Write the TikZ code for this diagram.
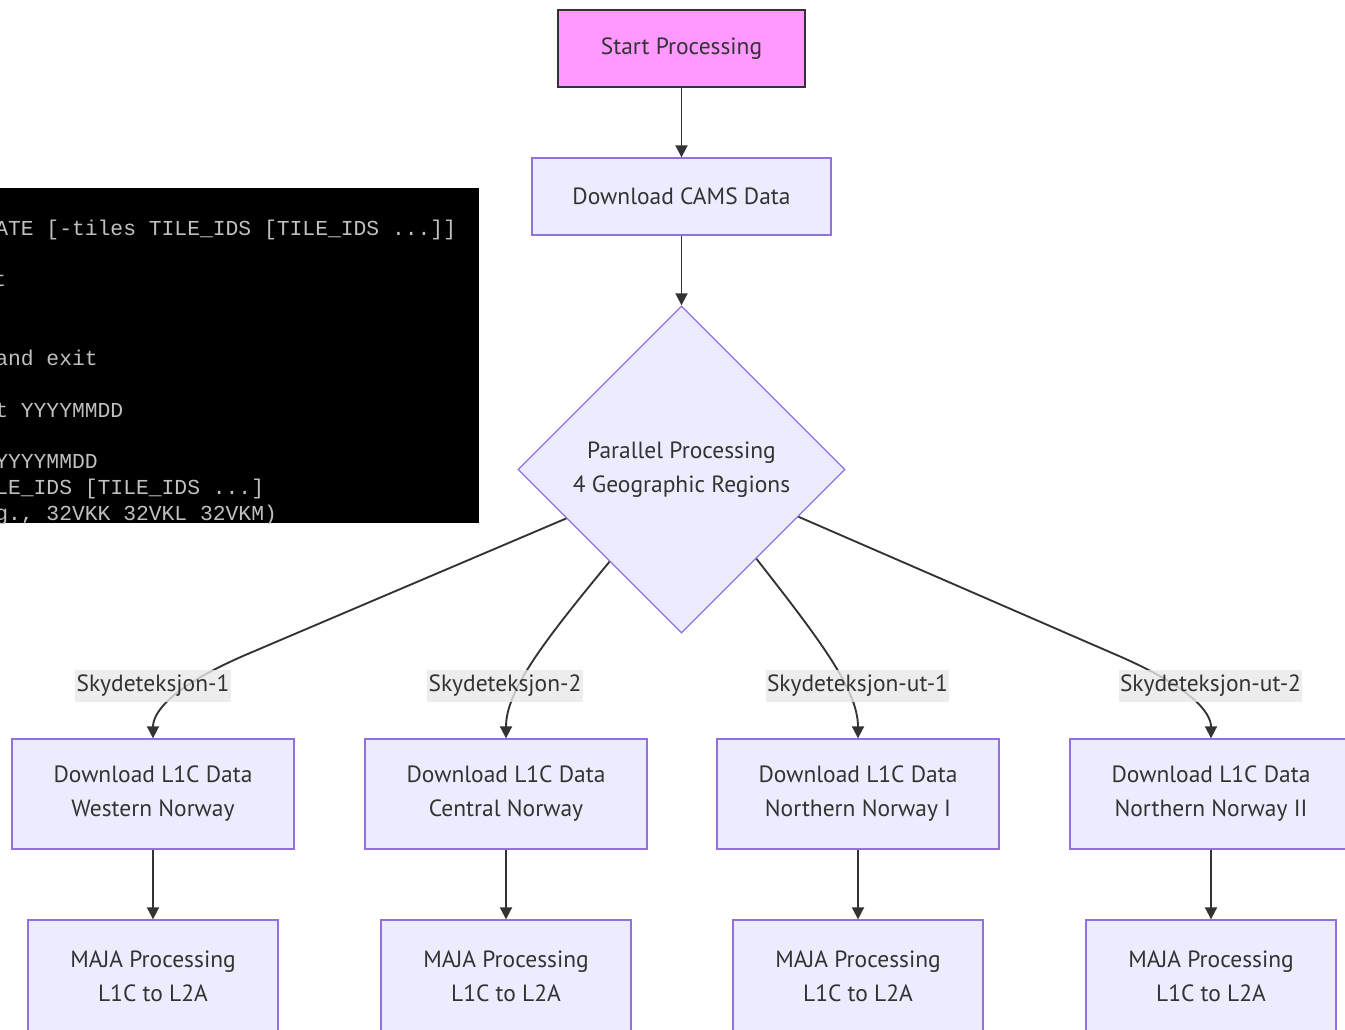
\documentclass[tikz,border=0pt]{standalone}
\usepackage{fontspec}
\setmainfont{PT Sans}
\newfontfamily\termfont{Liberation Mono}
\usetikzlibrary{shapes.geometric,arrows.meta}
\definecolor{boxfill}{HTML}{ECECFF}
\definecolor{boxline}{HTML}{9370DB}
\definecolor{ink}{HTML}{333333}
\definecolor{startfill}{HTML}{FF99FF}
\definecolor{lblfill}{HTML}{E8E8E8}
\definecolor{termtext}{HTML}{C0C0C0}
\begin{document}
\begin{tikzpicture}[x=0.75pt,y=-0.75pt,
  txt/.style={font=\fontsize{17.6}{25.5}\selectfont, text=ink},
  proc/.style={txt, rectangle, draw=boxline, fill=boxfill, line width=1pt,
    inner sep=0pt, align=center},
  startbox/.style={txt, rectangle, draw=ink, fill=startfill, line width=2.2pt,
    inner sep=0pt, align=center, minimum width=185.25pt, minimum height=57.75pt},
  camsbox/.style={proc, minimum width=224.25pt, minimum height=57.75pt},
  dlbox/.style={proc, minimum width=211.5pt, minimum height=82.5pt},
  majabox/.style={proc, minimum width=187.5pt, minimum height=84pt},
  decision/.style={txt, diamond, aspect=1, draw=boxline, fill=boxfill, line width=1pt,
    inner sep=0pt, align=center, minimum width=245.25pt, minimum height=245.25pt},
  flow/.style={draw=ink, line width=1.4pt, -{Triangle[length=9pt,width=9pt]}},
  edgelbl/.style={txt, fill=lblfill, fill opacity=0.8, text opacity=1,
    inner xsep=1pt, inner ysep=0pt, minimum height=24pt},
  termline/.style={font=\termfont\fontsize{16}{19}\selectfont, text=termtext,
    anchor=base west, inner sep=0pt}
]
\useasboundingbox (0,0) rectangle (1345,1030);

% terminal window pasted over the left side
\fill[black] (0,188) rectangle (479,523);
\begin{scope}
  \clip (0,188) rectangle (479,523);
  \node[termline] (t1) at (-5,236) {ATE [-tiles TILE\_IDS [TILE\_IDS ...]]};
  \node[termline] (t2) at (-7,287) {t};
  \node[termline] (t3) at (-5,365) {and exit};
  \node[termline] (t4) at (-5,417) {t YYYYMMDD};
  \node[termline] (t5) at (-5,468) {YYYYMMDD};
  \node[termline] (t6) at (-5,494) {LE\_IDS [TILE\_IDS ...]};
  \node[termline] (t7) at (-5,520) {g., 32VKK 32VKL 32VKM)};
\end{scope}

% main chain
\node[startbox] (start) at (681.5,48.5) {Start Processing};
\node[camsbox] (cams) at (681.5,196.5) {Download CAMS Data};
\node[decision] (dia) at (681.5,469.5) {Parallel Processing\\4 Geographic Regions};

% regional branches
\node[dlbox] (d1) at (153,794) {Download L1C Data\\Western Norway};
\node[dlbox] (d2) at (506,794) {Download L1C Data\\Central Norway};
\node[dlbox] (d3) at (858,794) {Download L1C Data\\Northern Norway I};
\node[dlbox] (d4) at (1211,794) {Download L1C Data\\Northern Norway II};

\node[majabox] (m1) at (153,976) {MAJA Processing\\L1C to L2A};
\node[majabox] (m2) at (506,976) {MAJA Processing\\L1C to L2A};
\node[majabox] (m3) at (858,976) {MAJA Processing\\L1C to L2A};
\node[majabox] (m4) at (1211,976) {MAJA Processing\\L1C to L2A};

% connectors
\draw[flow] (start.south) -- (cams.north);
\draw[flow] (cams.south) -- (dia.north);

\draw[flow] (dia.-157) -- (250,653) .. controls (172,686) and (153,712) .. (d1.north);
\draw[flow] (dia.-128.7) .. controls (545,640) and (506,690) .. (d2.north);
\draw[flow] (dia.-50.5) .. controls (820,640) and (858,690) .. (d3.north);
\draw[flow] (dia.-22.9) -- (1112,653) .. controls (1190,686) and (1211,712) .. (d4.north);

\draw[flow] (d1.south) -- (m1.north);
\draw[flow] (d2.south) -- (m2.north);
\draw[flow] (d3.south) -- (m3.north);
\draw[flow] (d4.south) -- (m4.north);

% edge labels
\node[edgelbl] (l1) at (153,686) {Skydeteksjon-1};
\node[edgelbl] (l2) at (505,686) {Skydeteksjon-2};
\node[edgelbl] (l3) at (857.5,686) {Skydeteksjon-ut-1};
\node[edgelbl] (l4) at (1210.5,686) {Skydeteksjon-ut-2};
\end{tikzpicture}
\end{document}
